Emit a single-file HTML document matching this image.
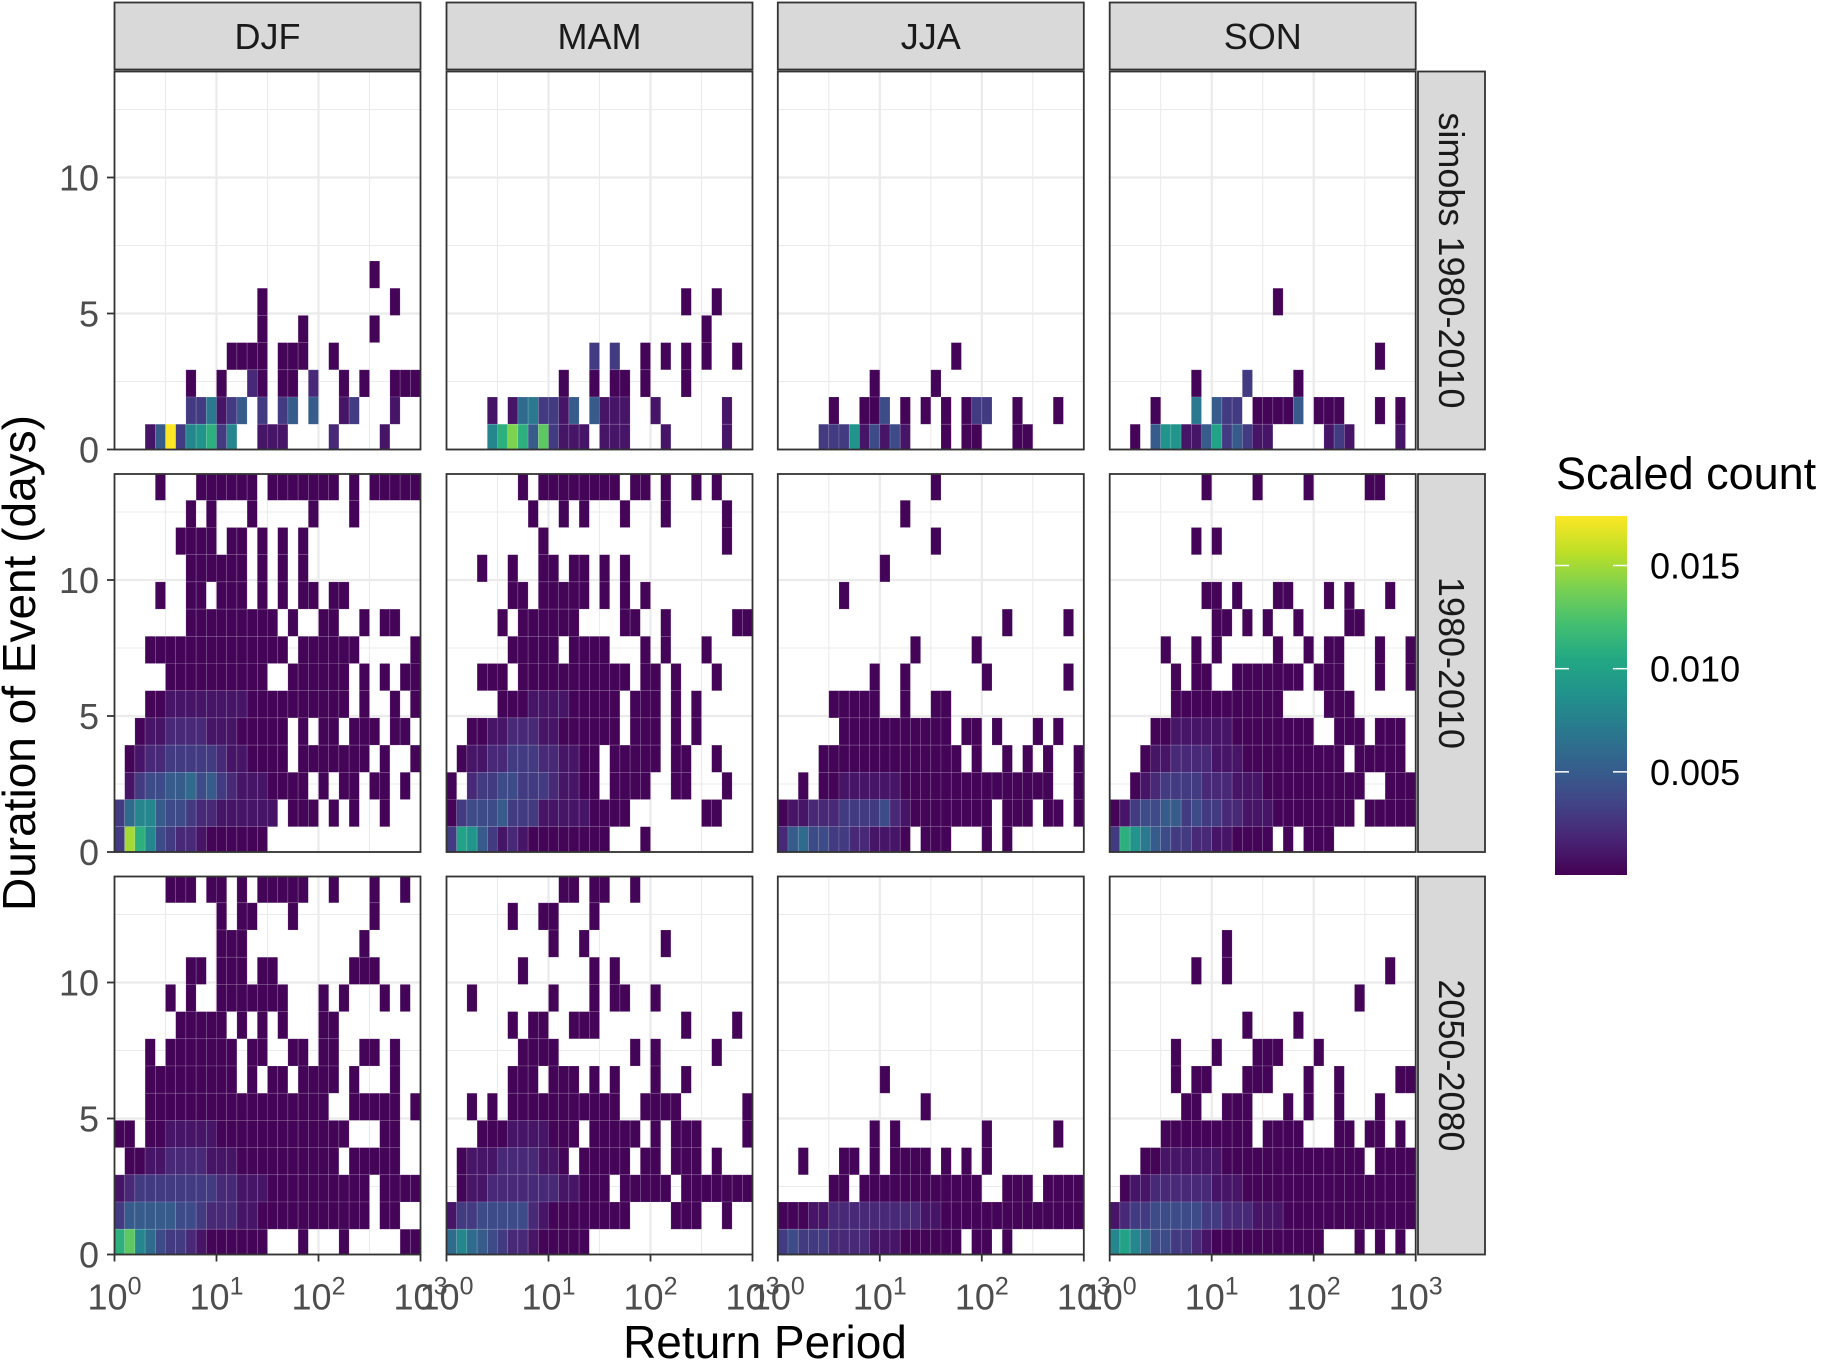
<!DOCTYPE html>
<html><head><meta charset="utf-8"><style>
html,body{margin:0;padding:0;background:#fff;}
svg{display:block;font-family:"Liberation Sans",sans-serif;}
</style></head><body>
<svg id="chart" width="1821" height="1363" viewBox="0 0 1821 1363" xmlns="http://www.w3.org/2000/svg"></svg>
<script>
const seasons = ["DJF","MAM","JJA","SON"];
const periods = ["simobs 1980-2010","1980-2010","2050-2080"];
const yTicks = [0,5,10];
const xTickExp = ["0","1","2","3"];
const legendTicks = [0.005,0.010,0.015];
// grid rows listed top (13 days) to bottom (0 days); 30 log10 bins of 0.1 each
// '.' empty, '0' ~0.0002, '1'-'9' = n*0.001, 'a'..'h' = 0.010..0.0174
const djfSimobs = [".........................0....","..............0............0..","..............0...0......0....","...........0000.000..0........",".......0..0..20.00.2..0.0..000",".......337135.3.35.5..13...1..","...15h389b38..111....2....1..."];
const mamSimobs = [".......................0..0...",".........................0....","..............3.3..0.0.0.0..0.","...........0..0.00.0...0......","....1.1673315.5111..1......1..","....8beb5d3111.111...1.....1.."];
const jjaSimobs = [".................0............",".........0.....0..............",".....0..004.0.0.0.033..0...0..","....333914141...0.00...00....."];
const sonSimobs = ["................0.............","..............................","..........................0...","........0....3....0...........","....0...7.533.00005.000...0.0.","..0.599115a35311.....131....1."];
const djfHist = ["....0...000000.0000000.0.00000",".......0.0...0.....0...0......","......0000.00.0.0.0...........",".......000000.0.0.0...........","....0..00.000.0.0.00.00.......",".......000000000.0..00..0.00..","...00000000000000.000000.....0",".....0000000000..000000.0.0.00","...00111111110000000000.0..0.0","..011222211100000.0.00.000.00.",".0122333332110000.0000000.0..0",".134455645321110000.0.00.00.0.","3688544322111111.000.0.0..0...","3fb843221000000..............."];
const mamHist = [".......0.00000000.00.0..0.0...","........0..0.0...0...0.....0..",".........0.................0..","...0..0..00.00.0.0............","......00.00000.0.0.0..........",".....0.000000....00..0......00","......00000.0000...0.0...0....","...000.00000000000.00.0...0...",".....000111100000.000.0.0.....","..001122211000000.000.0.0.....",".01122333221100.00000.00..0...","0.2334433321100.0000..00...0..","034445333111110000.......00...","3a95312100000000...0.........."];
const jjaHist = ["...............0..............","............0.................","...............0..............","..........0...................","......0.......................","......................0.....0.",".............0.....0..........",".........0..0.......0.......0.",".....00000..0..00.............","......00000000000.00.0...0.0..","....00000000000000.0..0.0.0..0","..0.00111111000000000000000..0","011222333342100000000.000.00.0","2564433221110.000...0.0......."];
const sonHist = [".........0....0....0.....00...","..............................","........0.0...................","..............................",".........00.0...00...0.0...0..","..........00.0.0..0....00.....",".....0..0.0.....0..0.00...0..0","......0.00..0000000.000...0..0","......00000000000....000......","....0011111100000000..000.000.","...01122221110000000000.00000.","..01233332221110000000000..000","013445534332211100000000.00000","3b97543322110000.0.000........"];
const djfFut = [".....000.00.0.00000..0...0..0.","..........0.00...0.......0....","..........000...........0.....",".......00.000.00.......000....",".....0.0..0000000...0.0...0.0.","......00000.0.0.0...00........","...0.0000000.00..00.00..00.0..","...000000000.0.00.0000.0...0..","...000000000000000000..00000.0","00.00111110000000000000...00..",".001122221110000000000.00000..","1233333333221110000000000.0000","3555554432221100000000000.00..","bd8643321000000...0...0.....00"];
const mamFut = ["...........00.00..0...........","......0..00...0...............","..........0..0.......0........",".......0......0.0.............","..0.......0...0.00..0.........","......0.00..000........0....0.",".......0000.......0.0.....0...","......000.000.0.0...0..0......","..0.0.00000000000..0000......0","...0001111000.00000.0.000....0",".01112222110.00000.00.000.0...",".011222222211000.00000.0000000","133444442100000000....000..0..","68654322100000................"];
const jjaFut = ["..........0...................","..............0...............",".........0.0........0......0..","..0...00.0.0000.0.0.0.........",".....00.000000000000..000.0000","000112222222221100000000000000","343332222111000000.00.0......."];
const sonFut = ["...........0..................","........0..0...............0..","........................0.....",".............0....0...........","......0...0...000...0.........","......0.00...000...0..0.....00",".......00..000...0.0..0...0...",".....000000000.0000...00.00.0.","...0011111100000000000000.0000",".01122222211100000000000000000","123344444332221110000000000000","8a8644332100000000000...0.0.0."];
const grids = [[djfSimobs,mamSimobs,jjaSimobs,sonSimobs],[djfHist,mamHist,jjaHist,sonHist],[djfFut,mamFut,jjaFut,sonFut]];

const NS="http://www.w3.org/2000/svg";
const svg=document.getElementById("chart");
function mk(tag,attrs,parent){const e=document.createElementNS(NS,tag);for(const k in attrs)e.setAttribute(k,attrs[k]);(parent||svg).appendChild(e);return e;}

const panelX=[114.5,446.5,777.8,1109.7], panelW=306;
const panelY=[71.5,474,876.5], panelH=378;
const unitY=27.2, VMAX=0.0174;
function xScale(p,logv){return panelX[p]+logv/3*panelW;}
function yScale(r,v){return panelY[r]+panelH-v*unitY;}
const vir=["#440154","#482475","#414487","#355f8d","#2a788e","#21918c","#22a884","#44bf70","#7ad151","#bddf26","#fde725"];
function hex(h){return [1,3,5].map(i=>parseInt(h.substr(i,2),16));}
function viridis(t){t=Math.max(0,Math.min(1,t));const s=t*10,i=Math.min(9,Math.floor(s)),f=s-i;const a=hex(vir[i]),b=hex(vir[i+1]);return "rgb("+a.map((v,k)=>Math.round(v+(b[k]-v)*f)).join(",")+")";}
function charVal(c){if(c==="0")return 0.0002;if(c>="1"&&c<="9")return +c*0.001;const i="abcdefgh".indexOf(c);return i===7?0.0174:0.010+i*0.001;}

for(let r=0;r<3;r++)for(let p=0;p<4;p++){
  const g=mk("g",{});
  
  
  const x0=panelX[p],y0=panelY[r];
  mk("rect",{x:x0,y:y0,width:panelW,height:panelH,fill:"#fff"},g);
  [0.5,1.5,2.5].forEach(l=>mk("line",{x1:xScale(p,l),x2:xScale(p,l),y1:y0,y2:y0+panelH,stroke:"#ebebeb","stroke-width":1.1},g));
  [2.5,7.5,12.5].forEach(v=>mk("line",{x1:x0,x2:x0+panelW,y1:yScale(r,v),y2:yScale(r,v),stroke:"#ebebeb","stroke-width":1.1},g));
  [1,2].forEach(l=>mk("line",{x1:xScale(p,l),x2:xScale(p,l),y1:y0,y2:y0+panelH,stroke:"#ebebeb","stroke-width":2.3},g));
  yTicks.forEach(v=>mk("line",{x1:x0,x2:x0+panelW,y1:yScale(r,v),y2:yScale(r,v),stroke:"#ebebeb","stroke-width":2.3},g));
  const clip=mk("clipPath",{id:"c"+r+p},g);mk("rect",{x:x0,y:y0,width:panelW,height:panelH},clip);
  const tg=mk("g",{"clip-path":"url(#c"+r+p+")"},g);
  const rows=grids[r][p];
  rows.forEach((s,i)=>{
    const j=rows.length-1-i;
    for(let c=0;c<s.length;c++){const ch=s[c];if(ch===".")continue;
      const v=charVal(ch);
      const t=mk("rect",{x:xScale(p,c*0.1),y:yScale(r,j+0.93),width:xScale(p,(c+1)*0.1)-xScale(p,c*0.1),height:unitY,fill:viridis(v/VMAX),stroke:"rgba(255,255,255,0.22)","stroke-width":0.6},tg);
      
      
    }
  });
  mk("rect",{x:x0,y:y0,width:panelW,height:panelH,fill:"none",stroke:"#333","stroke-width":1.8},g);
}
seasons.forEach((s,p)=>{
  const g=mk("g",{});
  
  
  mk("rect",{x:panelX[p],y:2.5,width:panelW,height:67,fill:"#d9d9d9",stroke:"#333","stroke-width":1.8},g);
  const t=mk("text",{x:panelX[p]+panelW/2,y:49,"text-anchor":"middle","font-size":36,fill:"#1a1a1a"},g);t.textContent=s;
});
periods.forEach((s,r)=>{
  const g=mk("g",{});
  
  
  mk("rect",{x:1418,y:panelY[r],width:67,height:panelH,fill:"#d9d9d9",stroke:"#333","stroke-width":1.8},g);
  const cx=1451.5,cy=panelY[r]+panelH/2;
  const t=mk("text",{x:cx,y:cy,"text-anchor":"middle","dominant-baseline":"central","font-size":36,fill:"#1a1a1a",transform:"rotate(90 "+cx+" "+cy+")"},g);t.textContent=s;
});
for(let r=0;r<3;r++)yTicks.forEach(v=>{
  const y=yScale(r,v);
  mk("line",{x1:107,x2:114.5,y1:y,y2:y,stroke:"#333","stroke-width":1.8});
  const t=mk("text",{x:99,y:y+13,"text-anchor":"end","font-size":36,fill:"#4d4d4d"});
  
  
  t.textContent=v;
});
for(let p=0;p<4;p++)xTickExp.forEach((e,i)=>{
  const x=xScale(p,i);const yb=panelY[2]+panelH;
  mk("line",{x1:x,x2:x,y1:yb,y2:yb+7,stroke:"#333","stroke-width":1.8});
  const t=mk("text",{x:x,y:yb+55,"text-anchor":"middle","font-size":36,fill:"#4d4d4d"});
  
  
  const a=document.createElementNS(NS,"tspan");a.textContent="10";t.appendChild(a);
  const b=document.createElementNS(NS,"tspan");b.setAttribute("dy","-15");b.setAttribute("font-size","25");b.textContent=e;t.appendChild(b);
});
let t=mk("text",{x:765,y:1358,"text-anchor":"middle","font-size":46,fill:"#000"});
t.textContent="Return Period";
t=mk("text",{x:35,y:663,"text-anchor":"middle","font-size":46,fill:"#000",transform:"rotate(-90 35 663)"});
t.textContent="Duration of Event (days)";
const lg=mk("g",{});

t=mk("text",{x:1556,y:489,"font-size":45,fill:"#000"},lg);t.textContent="Scaled count";
const defs=mk("defs",{},lg);const grad=mk("linearGradient",{id:"vg",x1:0,y1:1,x2:0,y2:0},defs);
vir.forEach((c,i)=>mk("stop",{offset:(i*10)+"%","stop-color":c},grad));
const barX=1555,barW=72,barBot=875,barTop=516;
mk("rect",{x:barX,y:barTop,width:barW,height:barBot-barTop,fill:"url(#vg)"},lg);
legendTicks.forEach(v=>{
  const y=barBot-v/VMAX*(barBot-barTop);
  mk("line",{x1:barX,x2:barX+14,y1:y,y2:y,stroke:"#fff","stroke-width":1.5},lg);
  mk("line",{x1:barX+barW-14,x2:barX+barW,y1:y,y2:y,stroke:"#fff","stroke-width":1.5},lg);
  const l=mk("text",{x:1650,y:y+13,"font-size":36,fill:"#000"},lg);
  
  
  l.textContent=v.toFixed(3);
});
</script>
</body></html>
